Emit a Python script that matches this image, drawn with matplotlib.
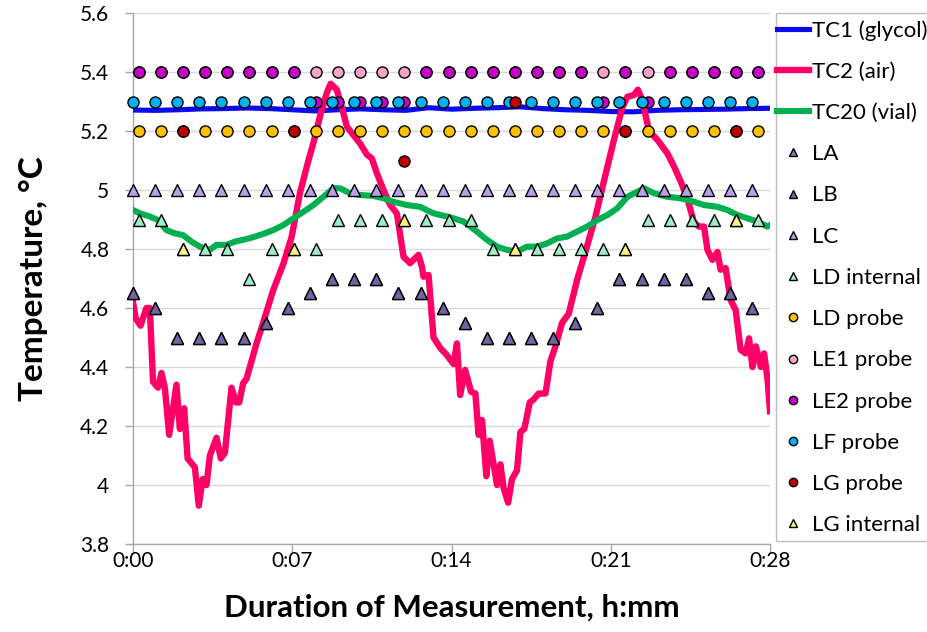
import numpy as np
import matplotlib.pyplot as plt
from matplotlib.patches import Rectangle
from matplotlib.ticker import FuncFormatter

plt.rcParams['font.family'] = ['Lato', 'DejaVu Sans']

# Thermocouple lines (minutes, degC)
tc1_t = list(range(29))
tc1_v = [5.271, 5.270, 5.272, 5.275, 5.276, 5.278, 5.276, 5.272, 5.268, 5.272,
         5.275, 5.272, 5.270, 5.279, 5.274, 5.277, 5.279, 5.282, 5.276, 5.272,
         5.270, 5.266, 5.265, 5.270, 5.272, 5.273, 5.274, 5.276, 5.277]

tc2_t = [0.00, 0.12, 0.33, 0.59, 0.74, 0.88, 1.10, 1.25, 1.40, 1.59, 1.91, 2.06,
         2.25, 2.40, 2.72, 2.89, 3.06, 3.23, 3.38, 3.67, 3.86, 4.04, 4.33, 4.52,
         4.67, 4.84, 4.99, 5.43, 5.72, 6.16, 6.61, 6.97, 7.34, 7.71, 7.93, 8.22,
         8.52, 8.69, 8.96, 9.18, 9.40, 9.69, 9.98, 10.28, 10.50, 10.72, 11.01,
         11.30, 11.60, 11.89, 12.18, 12.55, 12.70, 12.77, 12.99, 13.21, 13.50,
         13.80, 14.09, 14.24, 14.38, 14.60, 14.86, 15.05, 15.19, 15.34, 15.53,
         15.68, 16.00, 16.15, 16.29, 16.49, 16.66, 16.88, 17.03, 17.20, 17.44,
         17.61, 17.83, 18.13, 18.35, 18.57, 18.86, 19.15, 19.52, 19.96, 20.33,
         20.70, 21.14, 21.51, 21.73, 22.02, 22.19, 22.39, 22.68, 23.05, 23.49,
         23.78, 24.07, 24.37, 24.66, 24.88, 25.10, 25.25, 25.47, 25.69, 25.83,
         26.05, 26.13, 26.27, 26.49, 26.71, 26.93, 27.08, 27.23, 27.38, 27.60,
         27.74, 27.89, 28.00]
tc2_v = [4.62, 4.565, 4.54, 4.60, 4.60, 4.35, 4.33, 4.38, 4.33, 4.17, 4.34, 4.19,
         4.26, 4.09, 4.06, 3.93, 4.02, 4.00, 4.10, 4.16, 4.09, 4.11, 4.33, 4.28,
         4.28, 4.345, 4.36, 4.48, 4.55, 4.66, 4.75, 4.84, 4.99, 5.10, 5.16, 5.25,
         5.33, 5.36, 5.34, 5.28, 5.215, 5.186, 5.158, 5.12, 5.107, 5.057, 5.00,
         4.95, 4.92, 4.774, 4.752, 4.78, 4.74, 4.706, 4.712, 4.50, 4.465,
         4.44, 4.41, 4.48, 4.305, 4.39, 4.316, 4.31, 4.17, 4.22, 4.03,
         4.15, 4.00, 4.07, 3.99, 3.94, 4.02, 4.05, 4.18, 4.19, 4.28,
         4.29, 4.31, 4.31, 4.42, 4.47, 4.55, 4.58, 4.695, 4.81, 4.91,
         5.03, 5.17, 5.28, 5.316, 5.322, 5.34, 5.305, 5.20, 5.17, 5.124,
         5.08, 5.03, 4.97, 4.89, 4.876, 4.876, 4.797, 4.763, 4.79, 4.73,
         4.735, 4.695, 4.627, 4.593, 4.458, 4.446, 4.497, 4.40, 4.47, 4.40,
         4.446, 4.36, 4.25]

tc20_t = [0.00, 0.30, 0.74, 1.10, 1.47, 1.84, 2.20, 2.57, 2.94, 3.38, 3.67, 4.11,
          4.48, 4.84, 5.28, 5.72, 6.16, 6.61, 7.05, 7.49, 7.93, 8.37, 8.81, 9.10,
          9.54, 9.98, 10.57, 11.01, 11.45, 12.04, 12.62, 13.21, 13.80, 14.09,
          14.53, 14.83, 15.12, 15.56, 16.00, 16.44, 16.88, 17.32, 17.76, 18.20,
          18.64, 19.08, 19.52, 19.96, 20.41, 20.85, 21.29, 21.73, 22.17, 22.46,
          22.90, 23.49, 24.07, 24.66, 25.10, 25.69, 26.13, 26.57, 27.01, 27.45,
          27.89, 28.00]
tc20_v = [4.932, 4.921, 4.91, 4.898, 4.864, 4.853, 4.847, 4.825, 4.808, 4.797,
          4.814, 4.814, 4.825, 4.831, 4.840, 4.851, 4.864, 4.881, 4.904, 4.926,
          4.949, 4.977, 5.006, 5.006, 4.989, 4.983, 4.980, 4.972, 4.96, 4.949,
          4.943, 4.921, 4.91, 4.904, 4.893, 4.876, 4.859, 4.831, 4.808, 4.797,
          4.791, 4.808, 4.808, 4.819, 4.836, 4.842, 4.859, 4.876, 4.898, 4.915,
          4.938, 4.977, 4.994, 5.006, 4.989, 4.977, 4.972, 4.96, 4.949, 4.943,
          4.932, 4.915, 4.904, 4.893, 4.876, 4.881]

# Logger reading times (minutes)
t_early = [0.00, 0.97, 1.94, 2.92, 3.89, 4.86, 5.83, 6.80, 7.78, 8.75, 9.72,
           10.69, 11.66, 12.64, 13.61, 14.58, 15.55, 16.52, 17.50, 18.47, 19.44,
           20.41, 21.38, 22.36, 23.33, 24.30, 25.27, 26.24, 27.22]
t_late = [0.26, 1.23, 2.20, 3.18, 4.15, 5.12, 6.09, 7.06, 8.04, 9.01, 9.98,
          10.95, 11.92, 12.90, 13.87, 14.84, 15.81, 16.78, 17.76, 18.73, 19.70,
          20.67, 21.64, 22.62, 23.59, 24.56, 25.53, 26.50, 27.48]

la = [4.65, 4.60, 4.50, 4.50, 4.50, 4.50, 4.55, 4.60, 4.65, 4.70, 4.70, 4.70,
      4.65, 4.65, 4.60, 4.55, 4.50, 4.50, 4.50, 4.50, 4.55, 4.60, 4.70, 4.70,
      4.70, 4.70, 4.65, 4.65, 4.60]
lb = la[:]
lc = [5.0] * 29
ld_int = [4.9, 4.9, 4.8, 4.8, 4.8, 4.7, 4.8, 4.8, 4.8, 4.9, 4.9, 4.9, 4.9, 4.9,
          4.9, 4.9, 4.8, 4.8, 4.8, 4.8, 4.8, 4.8, 4.8, 4.9, 4.9, 4.9, 4.9, 4.9, 4.9]
ld_probe = [5.2] * 29
le1_probe = [5.4] * 29
le2_probe = [5.4, 5.4, 5.4, 5.4, 5.4, 5.4, 5.4, 5.4, 5.3, 5.3, 5.3, 5.3, 5.3,
             5.4, 5.4, 5.4, 5.4, 5.4, 5.4, 5.4, 5.4, 5.3, 5.4, 5.3, 5.4, 5.4,
             5.4, 5.4, 5.4]
lf_probe = [5.3] * 29
lg_t = [2.20, 7.06, 11.92, 16.78, 21.64, 26.50]
lg_probe = [5.2, 5.2, 5.1, 5.3, 5.2, 5.2]
lg_int = [4.8, 4.8, 4.9, 4.8, 4.8, 4.9]

fig = plt.figure(figsize=(9.27, 6.32), dpi=100)
ax = fig.add_axes([133 / 927, 1 - 544 / 632, 637 / 927, 531 / 632])

ax.plot(tc1_t, tc1_v, color='#0A0AF0', lw=3.7, label='TC1 (glycol)', zorder=3)
ax.plot(tc2_t, tc2_v, color='#FF0066', lw=4.6, label='TC2 (air)', zorder=3)
ax.plot(tc20_t, tc20_v, color='#00B050', lw=4.4, label='TC20 (vial)', zorder=3)

mk = dict(linestyle='none', markeredgecolor='black', markeredgewidth=1.0,
          markersize=8, zorder=4, clip_on=False)
ax.plot(t_early, la, marker='^', markerfacecolor='#8B77B8', label='LA', **mk)
ax.plot(t_early, lb, marker='^', markerfacecolor='#7562A4', label='LB', **mk)
ax.plot(t_early, lc, marker='^', markerfacecolor='#B9A0EA', label='LC', **mk)
ax.plot(t_late, ld_int, marker='^', markerfacecolor='#9DEDC6', label='LD internal', **mk)
ax.plot(t_late, ld_probe, marker='o', markerfacecolor='#FFC000', label='LD probe', **mk)
ax.plot(t_late, le1_probe, marker='o', markerfacecolor='#F9A3C8', label='LE1 probe', **mk)
ax.plot(t_late, le2_probe, marker='o', markerfacecolor='#C800C8', label='LE2 probe', **mk)
ax.plot(t_early, lf_probe, marker='o', markerfacecolor='#00B0F0', label='LF probe', **mk)
ax.plot(lg_t, lg_probe, marker='o', markerfacecolor='#C00000', label='LG probe', **mk)
ax.plot(lg_t, lg_int, marker='^', markerfacecolor='#FFF27F', label='LG internal', **mk)

ax.set_xlim(0, 28)
ax.set_ylim(3.8, 5.6)
ax.set_xticks([0, 7, 14, 21, 28])
ax.xaxis.set_major_formatter(FuncFormatter(lambda m, p: f"{int(m // 60)}:{int(m % 60):02d}"))
ax.set_yticks(np.arange(3.8, 5.61, 0.2))
ax.yaxis.set_major_formatter(FuncFormatter(lambda v, p: f"{round(v, 1):g}"))
ax.grid(axis='y', color='#D9D9D9', lw=1.0)
ax.set_axisbelow(True)
for s in ['top', 'right']:
    ax.spines[s].set_visible(False)
for s in ['left', 'bottom']:
    ax.spines[s].set_color('#A6A6A6')
    ax.spines[s].set_linewidth(1.0)
ax.tick_params(axis='both', colors='#A6A6A6', labelcolor='black', labelsize=15,
               length=6, width=1.0)
ax.tick_params(axis='y', pad=11)
ax.tick_params(axis='x', pad=-1)

ax.set_ylabel('Temperature, °C', fontsize=24, fontweight='bold', labelpad=23)
ax.set_xlabel('Duration of Measurement, h:mm', fontsize=22.5, fontweight='bold', labelpad=16)

# legend box, its right edge runs off the image
fig.patches.append(Rectangle((776 / 927, 1 - 540.7 / 632), 0.3, 527.4 / 632,
                             transform=fig.transFigure, fill=False,
                             edgecolor='#BFBFBF', lw=1.0))
handles, labels = ax.get_legend_handles_labels()
fig.legend(handles, labels, loc='upper left', bbox_to_anchor=(777 / 927, 1 - 20 / 632),
           frameon=False, fontsize=16, handlelength=1.45, handletextpad=0.12,
           labelspacing=0.955, borderaxespad=0, borderpad=0, markerscale=0.75)

fig.savefig('out.png', dpi=100)
